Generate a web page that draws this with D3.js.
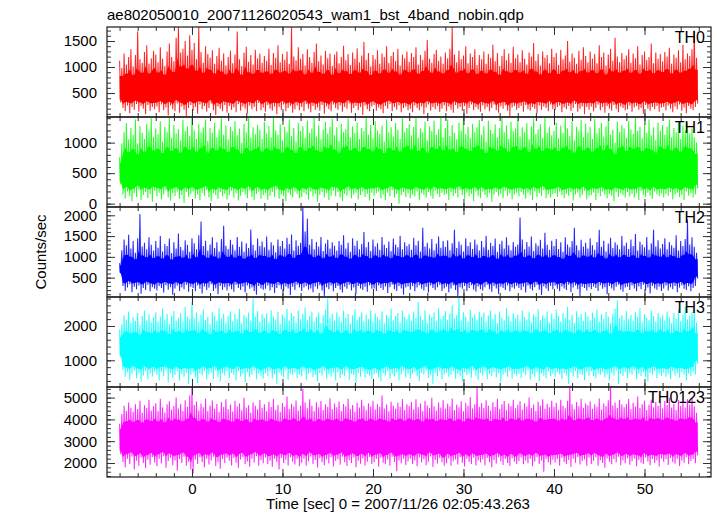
<!DOCTYPE html>
<html><head><meta charset="utf-8">
<script src="https://cdn.jsdelivr.net/npm/d3@7"></script>
<style>
body{margin:0;background:#fff}
svg{display:block}
text{font-family:"Liberation Sans",Arial,Helvetica,sans-serif;fill:#000}
</style>
</head><body>
<svg id="chart" width="717" height="516"></svg>
<script>
// ---------------- data ----------------
const chartTitle = "ae802050010_20071126020543_wam1_bst_4band_nobin.qdp";
const xLabel = "Time [sec] 0 = 2007/11/26 02:05:43.263";
const yLabel = "Counts/sec";
const bandNames = ["TH0", "TH1", "TH2", "TH3", "TH0123"];
const bandColors = ["#ff0000", "#00ff00", "#0000ff", "#00ffff", "#ff00ff"];
const tStart = -8, tStep = 0.25;          // envelope samples every 0.25 s
const xTicks = [0, 10, 20, 30, 40, 50];
const xDomain = [-9.39, 57.35];

// upper / lower envelopes of each light curve (counts/sec), 0.25 s steps from t = -8
const th0Hi = [
1120,980,1260,1050,1190,1340,1010,1230,1680,1150,1080,1290,1420,1060,1170,1310,
1240,1090,1380,1160,1020,1300,1450,1190,1110,1560,1770,1280,1350,1500,1220,1610,
1330,1460,1150,1770,1290,1080,1400,1250,1180,1320,1060,1210,1370,1120,1260,1030,
1190,1310,1070,1240,1680,1150,1020,1280,1390,1100,1230,1050,1330,1170,1260,1080,
1210,1120,1350,1040,1270,1180,1420,1090,1250,1140,1300,1060,1770,1200,1130,1380,
1160,1250,1030,1340,1190,1080,1290,1450,1110,1220,1050,1310,1170,1260,1020,1240,
1300,1070,1190,1410,1130,1250,1040,1280,1160,1360,1090,1220,1480,1140,1270,1010,
1230,1150,1320,1060,1260,1190,1400,1080,1210,1290,1120,1350,1030,1240,1170,1300,
1100,1270,1190,1380,1050,1230,1140,1310,1520,1160,1080,1250,1330,1120,1200,1060,
1280,1170,1350,1770,1240,1090,1310,1150,1220,1400,1070,1260,1190,1340,1040,1230,
1150,1300,1060,1250,1180,1430,1110,1270,1020,1210,1340,1130,1260,1080,1390,1170,
1240,1090,1320,1160,1050,1280,1200,1460,1120,1250,1030,1300,1180,1230,1070,1350,
1190,1270,1040,1330,1150,1220,1500,1100,1260,1180,1060,1310,1140,1380,1210,1090,
1300,1160,1250,1070,1420,1190,1280,1030,1240,1350,1120,1560,1200,1090,1270,1150,
1220,1340,1080,1260,1170,1400,1050,1230,1300,1140,1190,1450,1070,1280,1160,1250,
1110,1290,1200,1370,1060,1240,1180,1320,1090,1430,1150,1260,1210,1340,1700,1180];
const th0Lo = [
320,210,150,260,110,230,180,290,140,250,200,90,270,160,230,190,
240,130,280,170,220,70,260,190,150,300,120,240,180,60,210,270,
160,230,100,280,190,250,140,210,300,170,80,240,200,150,270,120,
250,180,220,130,290,160,240,200,110,260,190,230,150,310,170,220,
140,270,200,160,240,90,230,180,280,150,210,250,120,190,260,170,
230,150,290,200,130,250,180,220,160,270,100,240,190,150,280,210,
180,260,140,230,200,300,120,210,250,170,230,80,260,190,150,240,
270,160,220,190,110,250,200,290,150,230,180,260,130,210,240,170,
200,130,260,210,170,240,90,220,280,160,230,190,250,140,200,260,
150,240,180,120,270,200,230,160,250,100,210,280,170,230,190,140,
260,190,230,150,210,280,170,120,240,200,260,160,60,220,250,180,
210,250,140,270,190,160,230,200,110,260,180,240,210,150,280,190,
170,230,260,130,220,190,250,160,210,290,140,200,240,90,230,180,
240,150,210,280,170,230,120,250,200,160,270,190,130,240,210,170,
190,260,140,220,250,180,210,100,270,200,160,230,190,250,140,220,
230,170,260,200,130,240,190,280,160,220,110,250,200,170,230,300];

const th1Hi = [
760,990,1180,1320,1050,1240,1130,1380,990,1270,1160,1060,1310,1200,1420,1090,
1230,1140,1350,1020,1260,1180,1410,1080,1290,1150,1220,1040,1370,1190,1270,1110,
1420,1200,1060,1300,1170,1250,1380,1030,1240,1160,1330,1090,1210,1400,1130,1280,
1050,1260,1190,1350,1120,1230,1000,1310,1170,1420,1080,1250,1140,1290,1210,1060,
1340,1150,1270,1090,1410,1200,1130,1300,1040,1260,1180,1380,1110,1240,1020,1320,
1190,1270,1080,1360,1160,1230,1420,1100,1280,1050,1210,1340,1150,1260,1390,1120,
1250,1030,1310,1180,1220,1400,1090,1270,1160,1330,1060,1240,1190,1420,1130,1290,
1070,1350,1200,1140,1280,1020,1380,1170,1250,1100,1320,1210,1060,1400,1180,1240,
1300,1120,1260,1410,1080,1230,1170,1340,1040,1270,1190,1360,1130,1220,1420,1090,
1240,1380,1110,1290,1160,1050,1330,1200,1420,1140,1260,1080,1310,1180,1250,1370,
1130,1270,1020,1360,1210,1150,1300,1090,1240,1410,1170,1280,1060,1340,1190,1230,
1400,1100,1250,1180,1320,1050,1270,1390,1140,1220,1300,1080,1420,1160,1260,1120,
1190,1330,1070,1280,1160,1410,1230,1110,1350,1040,1260,1200,1370,1090,1310,1170,
1260,1060,1390,1150,1240,1320,1100,1270,1420,1130,1210,1000,1340,1180,1290,1230,
1080,1350,1210,1140,1420,1190,1260,1070,1300,1160,1380,1120,1250,1040,1330,1200,
1290,1130,1260,1380,1090,1240,1170,1350,1060,1280,1200,1320,1150,1230,1090,1000];
const th1Lo = [
320,150,80,200,120,40,170,110,230,60,140,190,90,160,30,210,
120,180,70,150,220,100,50,170,130,200,80,140,10,190,110,160,
200,90,150,60,180,130,220,100,40,170,140,80,190,120,160,70,
140,210,100,170,50,130,190,150,90,220,110,60,160,200,80,140,
170,60,130,190,110,230,80,150,120,40,180,140,100,200,160,90,
110,180,150,70,200,120,160,30,140,190,100,170,60,130,210,120,
190,100,40,160,130,210,90,150,180,70,140,200,110,160,50,180,
130,170,200,90,150,60,180,120,220,100,160,0,140,190,110,170,
90,150,120,200,60,170,140,100,190,130,80,210,160,110,180,140,
160,60,190,130,170,100,220,140,80,180,120,160,40,200,130,90,
200,140,100,170,30,150,190,120,160,90,210,130,170,70,150,180,
120,190,150,80,180,140,60,200,110,170,130,220,90,150,100,160,
170,110,200,140,90,160,130,190,50,150,180,100,140,210,70,130,
140,180,60,170,120,200,150,90,160,130,40,190,110,170,140,100,
190,120,160,100,170,60,210,140,110,180,130,80,200,150,120,170,
100,160,130,190,70,150,180,110,140,60,200,130,170,100,150,250];

const th2Hi = [
850,1160,1420,1280,1530,1200,1380,1100,1450,2030,1250,1340,1180,1470,1290,1150,
1380,1220,1500,1130,1310,1260,1440,1090,1350,1200,1560,1240,1160,1400,1290,1120,
1450,1330,1180,1520,1850,1260,1390,1150,1300,1470,1210,1350,1130,1430,1750,1270,
1190,1410,1300,1160,1480,1240,1370,1120,1330,1210,1660,1290,1150,1440,1260,1370,
1230,1490,1170,1350,1280,1110,1420,1260,1380,1200,1460,1310,1540,1150,1400,1270,
1340,2200,1610,1920,1290,1430,1180,1360,1250,1480,1140,1320,1410,1200,1350,1270,
1150,1380,1290,1520,1200,1340,1120,1450,1270,1390,1180,1310,1600,1230,1360,1140,
1420,1250,1330,1170,1480,1290,1210,1370,1140,1440,1300,1230,1510,1180,1350,1260,
1310,1170,1460,1280,1390,1130,1700,1250,1340,1200,1430,1160,1320,1490,1220,1380,
1240,1400,1160,1330,1650,1210,1370,1290,1130,1450,1260,1350,1190,1420,1300,1150,
1380,1230,1510,1170,1340,1260,1440,1120,1310,1390,1200,1470,1280,1160,1360,1240,
1300,1950,1420,1180,1360,1250,1490,1140,1330,1270,1410,1200,1580,1290,1170,1390,
1260,1430,1190,1350,1120,1470,1300,1230,1380,1700,1280,1160,1410,1250,1340,1200,
1450,1280,1170,1360,1650,1240,1390,1130,1320,1460,1210,1350,1290,1180,1500,1270,
1340,1190,1420,1260,1550,1150,1370,1300,1230,1480,1170,1330,1650,1250,1400,1200,
1310,1450,1180,1360,1280,1220,1520,1150,1380,1260,1430,1900,1300,1470,1240,1100];
const th2Lo = [
600,300,180,260,340,150,280,220,310,110,250,200,330,170,270,230,
190,300,250,140,320,210,270,90,240,310,180,260,220,330,160,280,
250,170,310,230,120,290,200,260,340,180,240,100,300,210,270,190,
290,220,160,330,250,200,280,140,310,230,260,180,90,300,240,210,
230,310,190,270,130,250,320,220,170,290,240,80,280,200,330,260,
180,260,300,210,240,150,290,230,320,190,60,270,220,310,170,250,
300,210,140,280,230,330,190,260,110,300,240,200,280,160,320,230,
240,180,310,250,200,290,130,270,330,220,180,300,240,90,260,290,
210,300,170,260,320,230,190,280,140,310,250,200,270,330,180,240,
280,150,240,310,200,60,270,230,300,180,250,320,210,160,290,220,
190,270,330,220,160,300,240,110,280,250,200,310,170,260,230,300,
250,200,280,140,310,230,190,270,330,210,80,290,240,180,300,220,
310,230,170,290,240,200,330,150,260,310,220,60,280,250,190,270,
220,290,250,180,320,230,270,100,300,240,190,280,330,210,160,260,
280,200,310,240,170,290,220,330,190,260,120,300,240,210,280,180,
240,310,190,270,220,300,150,260,320,230,200,290,170,250,300,480];

const th3Hi = [
1900,2050,2310,2180,2420,2090,2260,2150,2380,2020,2290,2450,2170,2340,2100,2250,
2400,2130,2280,2510,2190,2350,2060,2300,2440,2160,2230,2380,2120,2560,2270,2200,
2700,2240,2390,2120,2330,2480,2180,2270,2050,2410,2300,2150,2520,2220,2360,2100,
2290,2430,2140,2350,2210,2500,2080,2320,2250,2390,2160,2800,2280,2440,2120,2340,
2230,2370,2100,2460,2270,2190,2410,2060,2330,2250,2500,2150,2380,2290,2110,2450,
2200,2350,2540,2170,2300,2420,2130,2260,2390,2080,2310,2470,2800,2240,2360,2150,
2400,2280,2120,2450,2230,2350,2070,2310,2490,2180,2260,2400,2140,2330,2210,2460,
2120,2370,2260,2190,2430,2080,2320,2240,2510,2160,2290,2380,2110,2450,2270,2200,
2350,2150,2420,2240,2700,2300,2180,2460,2090,2330,2260,2390,2140,2520,2210,2300,
2440,2180,2370,2600,2230,2310,2820,2160,2400,2270,2120,2480,2250,2340,2190,2410,
2270,2390,2130,2310,2460,2200,2350,2080,2420,2250,2170,2530,2290,2140,2380,2230,
2330,2150,2450,2260,2190,2400,2110,2340,2280,2490,2170,2310,2230,2420,2100,2360,
2210,2470,2290,2130,2380,2240,2550,2180,2320,2090,2430,2260,2350,2150,2400,2280,
2160,2390,2250,2480,2120,2340,2200,2410,2270,2080,2360,2500,2750,2230,2310,2170,
2440,2200,2330,2150,2400,2270,2520,2110,2350,2240,2180,2460,2290,2130,2380,2250,
2310,2160,2420,2250,2090,2370,2220,2480,2140,2330,2560,2190,2300,2410,2500,2100];
const th3Lo = [
1100,720,520,650,430,600,700,480,620,380,560,690,450,610,530,670,
580,420,660,540,700,360,620,490,570,680,410,600,520,640,300,590,
650,500,330,610,560,690,440,580,640,470,710,520,390,620,560,680,
480,630,570,410,690,530,600,350,650,510,580,700,440,610,540,470,
620,540,680,460,590,310,640,560,500,700,430,610,570,650,480,590,
530,690,420,600,650,510,570,380,630,550,700,460,590,520,640,410,
660,480,590,540,700,430,610,570,330,640,520,680,490,600,550,450,
590,640,510,380,620,560,690,470,600,530,650,420,580,700,500,610,
470,600,660,540,400,630,580,700,490,560,320,620,540,680,450,590,
640,520,580,690,460,600,530,380,650,570,610,490,700,550,420,630,
560,690,450,600,540,660,500,620,350,580,640,520,690,470,600,550,
610,480,640,570,700,430,590,520,660,400,620,550,480,680,540,600,
520,650,590,460,620,560,310,640,530,690,480,600,570,420,660,540,
680,540,470,610,570,650,500,590,420,630,560,700,300,600,540,660,
490,620,580,700,450,600,540,660,510,380,630,570,690,480,610,550,
640,520,600,450,680,560,620,490,650,580,410,610,540,670,590,900];

const th0123Hi = [
3800,4250,4620,4400,4780,4530,4350,4700,4480,4860,4300,4650,4520,4900,4410,4600,
4740,4380,4950,4560,4320,4690,4830,4450,4610,5000,4500,4720,4390,4880,4580,5100,
5450,4660,4820,4410,4730,4560,4950,4380,4640,4870,4490,4710,4340,4800,4580,4920,
4470,4680,4360,4850,4590,4730,4420,4990,4550,4650,4310,4780,4620,4460,4890,4530,
4700,4390,4810,4570,4940,4440,4660,4350,4750,4580,5050,4480,4720,4600,4870,4410,
4640,5400,4780,4510,4920,4620,4380,4790,4560,4840,4430,4690,4580,4970,4470,4730,
4560,4820,4390,4710,4600,4950,4480,4660,4350,4780,4540,4900,4620,4420,4740,4590,
4860,4450,4700,4580,5100,4500,4680,4370,4810,4620,4490,4760,4580,4930,4430,4690,
4610,4800,4460,4920,4570,4730,4380,4850,4640,4520,4990,4600,4410,4770,4550,4880,
4490,4720,4600,4960,4430,4680,4560,4830,4370,4750,4620,5020,4500,4700,5450,4580,
4750,4520,4880,4630,4410,4790,4570,4950,4480,4690,4840,4420,4730,4600,4900,4510,
4670,4830,4450,4740,4590,5000,4520,4680,4380,4810,4630,4920,4490,4720,4560,4860,
4580,4760,4440,4900,4620,4510,4850,5450,4690,4470,4800,4600,4950,4530,4740,4650,
4820,4490,4700,4580,4960,4450,4730,4610,4880,5500,4640,4780,4520,4900,4680,4560,
4710,4930,4480,4760,4590,5050,4520,4700,4850,4430,4670,4900,4560,4800,4620,4750,
4500,4840,4660,4980,4550,4720,4430,4890,4610,4780,4540,4920,4680,5000,4600,4300];
const th0123Lo = [
2400,2050,1800,2200,1950,2300,1700,2100,1880,2250,2000,1760,2150,1920,2280,2020,
1850,2200,1990,2310,1780,2080,2240,1900,2120,1650,2180,2000,2290,1870,2060,1700,
1520,2150,1950,2260,2040,1800,2200,1930,2110,2290,1860,2050,1740,2180,2000,2240,
2100,1890,2230,2010,1780,2160,2280,1940,2070,1830,2200,2020,2310,1880,2130,1990,
2250,1960,2100,1820,2190,2040,1700,2230,2000,2150,1890,2270,2060,1930,2180,1850,
2010,2200,1880,2080,2300,1950,2140,1790,2220,2030,1900,2160,1980,2260,1840,2090,
2170,1920,2290,2040,1860,2130,2000,2250,1800,2100,1970,2210,1890,2060,2280,1950,
2030,2180,1830,2240,2010,1940,2160,1870,2290,2050,1620,2120,1990,2200,1910,2080,
2200,1960,2110,1850,2250,2020,2170,1900,2060,2300,1820,2140,1980,2230,2040,1880,
1990,2210,1870,2080,2160,1930,2270,2010,1840,2190,2050,1950,2240,1890,2120,2020,
2160,1900,2230,2040,1800,2140,1980,2260,2070,1910,2180,2000,1860,2220,2060,1950,
2090,2250,1940,2120,1990,2200,1850,2070,2280,1960,2110,1600,2180,2030,1920,2150,
2020,2180,1880,2230,2050,1960,2140,1820,2200,2010,2270,1930,2090,2160,1880,2240,
1950,2100,2260,1870,2130,2000,1780,2210,2060,1940,2170,2040,2290,1900,2110,1990,
2220,1920,2080,2190,1850,2140,2020,1960,2250,2070,1900,2180,2000,2120,1840,2210,
2060,2170,1910,2230,2040,1970,2200,1860,2120,2010,2260,1940,2090,2180,1990,2350];

const bandMeans = [600, 540, 700, 1330, 3200];
const yDomains = [[39, 1769], [-55, 1420], [34, 2200], [222, 2845], [1358, 5486]];
const yMajorTicks = [[500, 1000, 1500], [0, 500, 1000], [500, 1000, 1500, 2000], [1000, 2000], [2000, 3000, 4000, 5000]];
const yMinorStep = [100, 100, 100, 200, 200];
const xMinorStep = 2;

const bandHi = [th0Hi, th1Hi, th2Hi, th3Hi, th0123Hi];
const bandLo = [th0Lo, th1Lo, th2Lo, th3Lo, th0123Lo];

// ---------------- layout ----------------
const L = 107, R = 711, T = 27, PH = 90;
const svg = d3.select("#chart");
const x = d3.scaleLinear().domain(xDomain).range([L, R]);
const frameColor = "#1a1a1a", tickColor = "#333";
const A = 0.6, B = 0.8; // solid core fraction
const fontFam = '"Liberation Sans",Arial,sans-serif';

svg.append("text").attr("x", 107).attr("y", 19.5).attr("font-size", 15).text(chartTitle);

bandNames.forEach((name, i) => {
  const top = T + i * PH, bot = top + PH;
  const y = d3.scaleLinear().domain(yDomains[i]).range([bot, top]);
  const hi = bandHi[i], lo = bandLo[i], m = bandMeans[i], n = hi.length;
  const g = svg.append("g");
  const cid = "clip" + i;
  svg.append("clipPath").attr("id", cid).append("rect")
    .attr("x", L).attr("y", top).attr("width", R - L).attr("height", PH);
  const dg = g.append("g").attr("clip-path", `url(#${cid})`);

  // solid core of the dense light curve
  const core = d3.range(n).map(k => {
    const k2 = Math.min(k + 1, n - 1);
    const h = Math.min(hi[k], hi[k2]);
    const l = Math.max(lo[k], lo[k2]);
    return { t: tStart + k * tStep + tStep / 2, y1: m + A * (h - m), y0: m - B * (m - l) };
  });
  core.unshift({ t: tStart, y1: core[0].y1, y0: core[0].y0 });
  dg.append("path").datum(core)
    .attr("fill", bandColors[i]).attr("stroke", "none")
    .attr("d", d3.area().x(d => x(d.t)).y0(d => y(d.y0)).y1(d => y(d.y1)));

  // spiky light-curve line (zig-zag between upper and lower envelope)
  const pts = [];
  hi.forEach((v, k) => {
    pts.push([tStart + k * tStep, v]);
    pts.push([tStart + k * tStep + tStep / 2, lo[k]]);
  });
  dg.append("path").datum(pts)
    .attr("fill", "none").attr("stroke", bandColors[i]).attr("stroke-width", 1.05)
    .attr("stroke-opacity", 0.85)
    .attr("d", d3.line().x(d => x(d[0])).y(d => y(d[1])));

  // y axes
  const yMinor = d3.range(Math.ceil(yDomains[i][0] / yMinorStep[i]) * yMinorStep[i], yDomains[i][1], yMinorStep[i]);
  const styleAxis = sel => { sel.select(".domain").remove(); sel.selectAll("line").attr("stroke", tickColor); };
  g.append("g").attr("transform", `translate(${L},0)`)
    .call(d3.axisLeft(y).tickValues(yMinor).tickSizeInner(-4).tickSizeOuter(0).tickFormat(""))
    .call(styleAxis);
  g.append("g").attr("transform", `translate(${L},0)`)
    .call(d3.axisLeft(y).tickValues(yMajorTicks[i]).tickSizeInner(-8).tickSizeOuter(0).tickPadding(10).tickFormat(d3.format("d")))
    .call(styleAxis)
    .selectAll("text").attr("font-size", 15).attr("font-family", fontFam).attr("fill", "#000");
  g.append("g").attr("transform", `translate(${R},0)`)
    .call(d3.axisRight(y).tickValues(yMinor).tickSizeInner(-4).tickSizeOuter(0).tickFormat(""))
    .call(styleAxis);
  g.append("g").attr("transform", `translate(${R},0)`)
    .call(d3.axisRight(y).tickValues(yMajorTicks[i]).tickSizeInner(-8).tickSizeOuter(0).tickFormat(""))
    .call(styleAxis);

  // x axes (top and bottom of each panel)
  const xMinor = d3.range(Math.ceil(xDomain[0] / xMinorStep) * xMinorStep, xDomain[1], xMinorStep);
  [[d3.axisTop, top], [d3.axisBottom, bot]].forEach(([ax, yy]) => {
    g.append("g").attr("transform", `translate(0,${yy})`)
      .call(ax(x).tickValues(xMinor).tickSizeInner(-4).tickSizeOuter(0).tickFormat(""))
      .call(styleAxis);
  });
  g.append("g").attr("transform", `translate(0,${top})`)
    .call(d3.axisTop(x).tickValues(xTicks).tickSizeInner(-8).tickSizeOuter(0).tickFormat(""))
    .call(styleAxis);
  const bx = g.append("g").attr("transform", `translate(0,${bot})`)
    .call(d3.axisBottom(x).tickValues(xTicks).tickSizeInner(-8).tickSizeOuter(0).tickPadding(6)
      .tickFormat(i === bandNames.length - 1 ? d3.format("d") : ""))
    .call(styleAxis);
  bx.selectAll("text").attr("font-size", 15).attr("font-family", fontFam).attr("fill", "#000");

  // frame
  g.append("rect").attr("x", L).attr("y", top).attr("width", R - L).attr("height", PH)
    .attr("fill", "none").attr("stroke", frameColor).attr("stroke-width", 1.2);

  // band label
  g.append("text").attr("x", 705).attr("y", top + 15.5).attr("text-anchor", "end")
    .attr("font-size", 16).text(name);
});

svg.append("text").attr("x", 398).attr("y", 509).attr("text-anchor", "middle")
  .attr("font-size", 15).text(xLabel);
svg.append("text").attr("transform", "translate(46,252) rotate(-90)").attr("text-anchor", "middle")
  .attr("font-size", 15).text(yLabel);
</script>
</body></html>
